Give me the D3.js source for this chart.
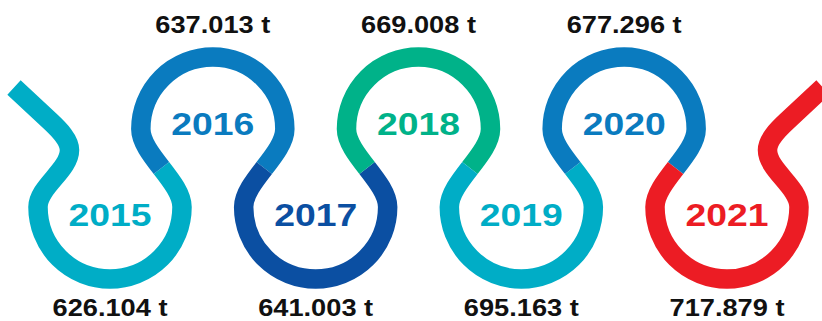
<!DOCTYPE html>
<html>
<head>
<meta charset="utf-8">
<script src="https://cdn.jsdelivr.net/npm/d3@7"></script>
<style>
  html, body { margin: 0; padding: 0; background: #ffffff; }
  svg { display: block; }
</style>
</head>
<body>
<div id="chart"></div>
<script>
// ---- data ----
const years   = ["2015", "2016", "2017", "2018", "2019", "2020", "2021"];
const tonnes  = [626104, 637013, 641003, 669008, 695163, 677296, 717879];
const sides   = ["bottom", "top", "bottom", "top", "bottom", "top", "bottom"];
const colors  = ["#00adc6", "#0a7bbf", "#0b4fa2", "#00b289", "#00adc6", "#0a7bbf", "#ec1c24"];

// ---- layout ----
const W = 822, H = 321;
const R = 72;          // loop centre-line radius
const SW = 19.5;       // stroke width
const K = 25;          // S-curve handle length

const fmt = d3.formatLocale({decimal: ",", thousands: ".", grouping: [3], currency: ["", ""]}).format(",d");

const x = d3.scalePoint().domain(years).range([110, 727]);
const y = d3.scaleOrdinal().domain(["bottom", "top"]).range([207, 129]);
const dirOf = s => s === "bottom" ? 1 : -1;

const svg = d3.select("#chart").append("svg")
  .attr("width", W).attr("height", H);

const loops = years.map((yr, i) => ({
  year: yr, value: tonnes[i], side: sides[i], color: colors[i],
  cx: x(yr), cy: y(sides[i]), dir: dirOf(sides[i])
}));

const mid = (a, b) => [(a[0] + b[0]) / 2, (a[1] + b[1]) / 2];
function split(P) {            // de Casteljau at t = 0.5
  const p01 = mid(P[0], P[1]), p12 = mid(P[1], P[2]), p23 = mid(P[2], P[3]);
  const p012 = mid(p01, p12), p123 = mid(p12, p23), m = mid(p012, p123);
  return [[P[0], p01, p012, m], [m, p123, p23, P[3]]];
}
// S-curve from loop a's right point to loop b's left point
function sCurve(a, b) {
  const p0 = [a.cx + R, a.cy], p3 = [b.cx - R, b.cy];
  return [p0, [p0[0], p0[1] - a.dir * K], [p3[0], p3[1] + a.dir * K], p3];
}
const halves = [];
for (let i = 0; i < loops.length - 1; i++) halves.push(split(sCurve(loops[i], loops[i + 1])));

loops.forEach((L, i) => {
  const p = d3.path();
  const cx = L.cx, cy = L.cy;
  if (i === 0) {
    p.moveTo(cx - 96, cy - 119.5);
    p.lineTo(cx - 59.5, cy - 85.5);
    p.bezierCurveTo(cx - 50.7, cy - 77.3, cx - 40.5, cy - 67, cx - 40.5, cy - 57);
    p.bezierCurveTo(cx - 40.5, cy - 37, cx - 72, cy - 20, cx - R, cy);
  } else {
    const h = halves[i - 1][1];
    p.moveTo(h[0][0], h[0][1]);
    p.bezierCurveTo(h[1][0], h[1][1], h[2][0], h[2][1], h[3][0], h[3][1]);
  }
  if (L.dir === 1) p.arc(cx, cy, R, Math.PI, 0, true);
  else p.arc(cx, cy, R, Math.PI, 2 * Math.PI, false);
  if (i === loops.length - 1) {
    p.bezierCurveTo(cx + 72, cy - 20, cx + 40.5, cy - 37, cx + 40.5, cy - 57);
    p.bezierCurveTo(cx + 40.5, cy - 67, cx + 50.7, cy - 77.3, cx + 59.5, cy - 85.5);
    p.lineTo(cx + 96, cy - 119.5);
  } else {
    const h = halves[i][0];
    p.bezierCurveTo(h[1][0], h[1][1], h[2][0], h[2][1], h[3][0], h[3][1]);
  }
  L.d = p.toString();
});

svg.append("g").selectAll("path").data(loops).join("path")
  .attr("d", d => d.d)
  .attr("fill", "none")
  .attr("stroke", d => d.color)
  .attr("stroke-width", SW)
  .attr("stroke-linecap", "butt")
  .attr("stroke-linejoin", "round");

// year labels
svg.append("g").selectAll("text").data(loops).join("text")
  .attr("x", d => d.cx)
  .attr("y", d => d.dir === 1 ? d.cy + 18.5 : d.cy + 5.5)
  .attr("text-anchor", "middle")
  .attr("font-family", "'Liberation Sans', Arial, Helvetica, sans-serif")
  .attr("font-weight", "bold")
  .attr("font-size", 32)
  .attr("textLength", 83)
  .attr("lengthAdjust", "spacingAndGlyphs")
  .attr("fill", d => d.color)
  .text(d => d.year);

// value labels
svg.append("g").selectAll("text").data(loops).join("text")
  .attr("x", d => d.cx)
  .attr("y", d => d.dir === 1 ? d.cy + 109 : d.cy - 95.7)
  .attr("text-anchor", "middle")
  .attr("font-family", "'Liberation Sans', Arial, Helvetica, sans-serif")
  .attr("font-weight", "bold")
  .attr("font-size", 23)
  .attr("textLength", 115)
  .attr("lengthAdjust", "spacingAndGlyphs")
  .attr("fill", "#111111")
  .text(d => fmt(d.value) + " t");
</script>
</body>
</html>
